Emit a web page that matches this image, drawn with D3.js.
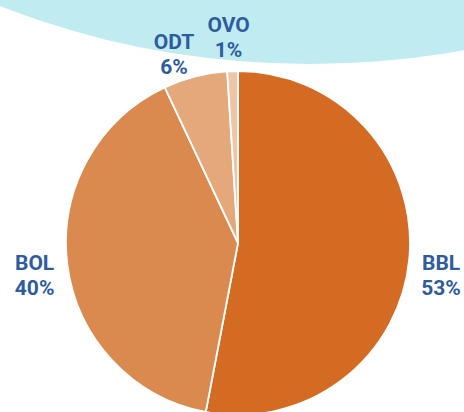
<!DOCTYPE html>
<html>
<head>
<meta charset="utf-8">
<script src="https://cdn.jsdelivr.net/npm/d3@7"></script>
<style>
  body { margin: 0; background: #fff; }
  svg { display: block; }
</style>
</head>
<body>
<script>
const width = 464;
const height = 412;

// data
const categories = ['BBL', 'BOL', 'ODT', 'OVO'];
const shares = [53, 40, 6, 1];
const colors = ['#d46b22', '#db8a4f', '#e5a87b', '#efc5a8'];

const cx = 238, cy = 243, radius = 172;
// small tweaks to where each label sits, relative to the slice centroid
const labelNudge = [[-1, 13], [0, 6], [-13, 10], [-3, -1]];

const data = categories.map((c, i) => ({name: c, value: shares[i], color: colors[i], i: i}));

let svg = d3.select('body')
  .append('svg')
  .attr('width', width)
  .attr('height', height);

// decorative light blue shape at top
svg.append('ellipse')
  .attr('cx', 310)
  .attr('cy', -496)
  .attr('rx', 700)
  .attr('ry', 560)
  .style('fill', '#c0ebf1');

const pie = d3.pie().sort(null).value(d => d.value);
const arc = d3.arc().innerRadius(0).outerRadius(radius);
const labelArc = d3.arc().innerRadius(205).outerRadius(205);

const g = svg.append('g').attr('transform', `translate(${cx},${cy})`);

g.selectAll('path')
  .data(pie(data))
  .enter()
  .append('path')
  .attr('d', arc)
  .style('fill', d => d.data.color)
  .style('stroke', '#fff')
  .style('stroke-width', 1.8);

const labels = g.selectAll('text')
  .data(pie(data))
  .enter()
  .append('text')
  .attr('text-anchor', 'middle')
  .style('font-family', 'Roboto, sans-serif')
  .style('font-weight', 'bold')
  .style('font-size', '21px')
  .style('fill', '#2f5b9f')
  .attr('transform', d => {
    const c = labelArc.centroid(d);
    const n = labelNudge[d.data.i];
    return `translate(${c[0] + n[0]},${c[1] + n[1]})`;
  });

labels.append('tspan').attr('x', 0).attr('y', -5).text(d => d.data.name);
labels.append('tspan').attr('x', 0).attr('y', 20).text(d => d.data.value + '%');
</script>
</body>
</html>
